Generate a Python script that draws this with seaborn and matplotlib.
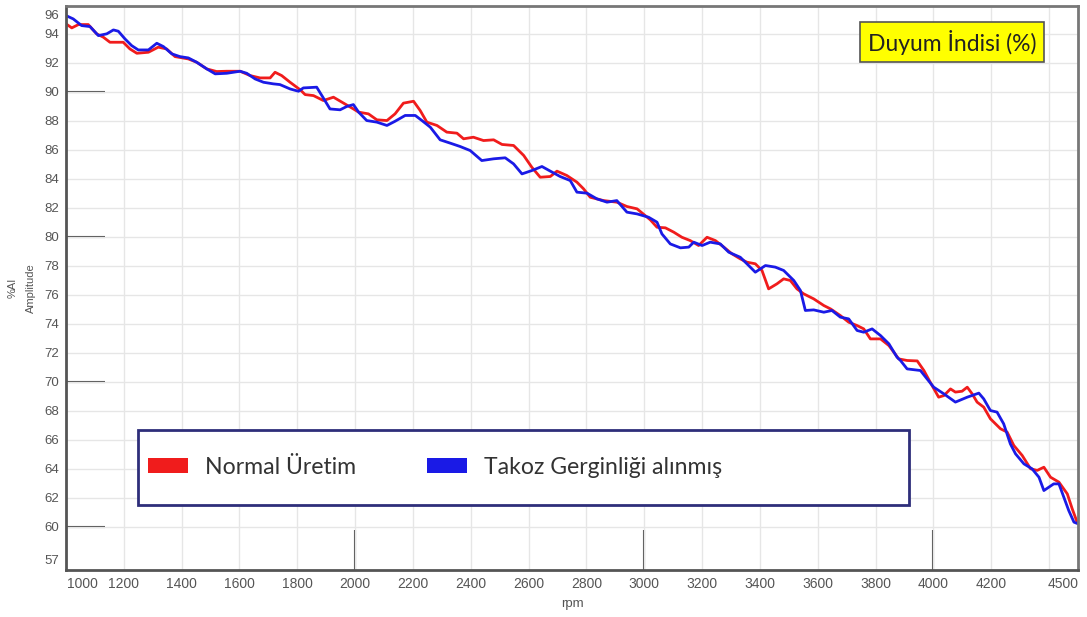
import numpy as np
import pandas as pd
import matplotlib
matplotlib.use("Agg")
import matplotlib.pyplot as plt
import seaborn as sns
from matplotlib.patches import Patch, Rectangle
from matplotlib.ticker import FixedLocator
from matplotlib.transforms import ScaledTranslation

# --- measured curves: engine speed (rpm) vs. amplitude (%AI) ---
normal_rpm = [1000, 1020, 1043, 1077, 1106, 1129, 1152, 1198, 1221, 1245, 1285, 1319, 1348, 1377,
              1423, 1452, 1487, 1521, 1556, 1602, 1637, 1671, 1706, 1723, 1746, 1775, 1810, 1827,
              1856, 1890, 1925, 1960, 1994, 2012, 2046, 2075, 2110, 2138, 2167, 2202, 2225, 2248,
              2283, 2317, 2352, 2375, 2409, 2444, 2479, 2508, 2548, 2583, 2611, 2640, 2675, 2698,
              2732, 2767, 2790, 2813, 2859, 2905, 2940, 2975, 3021, 3044, 3073, 3102, 3130, 3159,
              3188, 3217, 3246, 3275, 3303, 3332, 3355, 3384, 3407, 3430, 3459, 3482, 3505, 3528,
              3551, 3586, 3621, 3644, 3678, 3707, 3736, 3759, 3782, 3817, 3846, 3880, 3909, 3944,
              3967, 3995, 4018, 4036, 4059, 4076, 4099, 4117, 4134, 4151, 4174, 4197, 4232, 4255,
              4278, 4307, 4336, 4359, 4382, 4405, 4434, 4463, 4480, 4497]
normal_amp = [94.67, 94.39, 94.62, 94.62, 93.98, 93.75, 93.40, 93.40, 92.94, 92.64, 92.71, 93.06,
              92.94, 92.41, 92.25, 92.02, 91.56, 91.38, 91.40, 91.40, 91.10, 90.94, 90.94, 91.33,
              91.10, 90.64, 90.12, 89.79, 89.72, 89.38, 89.61, 89.20, 88.80, 88.58, 88.46, 88.05,
              88.00, 88.46, 89.20, 89.33, 88.69, 87.89, 87.66, 87.20, 87.13, 86.74, 86.85, 86.62,
              86.67, 86.35, 86.28, 85.59, 84.78, 84.09, 84.14, 84.51, 84.21, 83.75, 83.29, 82.71,
              82.48, 82.37, 82.07, 81.91, 81.15, 80.64, 80.60, 80.30, 79.95, 79.72, 79.38, 79.95,
              79.72, 79.27, 78.81, 78.46, 78.23, 78.12, 77.66, 76.39, 76.74, 77.08, 76.97, 76.39,
              76.05, 75.70, 75.24, 75.01, 74.55, 74.09, 73.86, 73.63, 72.94, 72.94, 72.48, 71.56,
              71.45, 71.42, 70.76, 69.73, 68.92, 69.03, 69.49, 69.27, 69.33, 69.61, 69.15, 68.58,
              68.23, 67.43, 66.74, 66.51, 65.59, 64.90, 63.98, 63.87, 64.09, 63.40, 63.06, 62.25,
              61.22, 60.30]

takoz_rpm = [1000, 1025, 1054, 1083, 1112, 1141, 1164, 1181, 1204, 1227, 1250, 1285, 1314, 1337,
             1366, 1394, 1423, 1452, 1487, 1516, 1556, 1602, 1625, 1654, 1683, 1717, 1740, 1775,
             1804, 1821, 1867, 1885, 1913, 1948, 1971, 1994, 2012, 2040, 2075, 2110, 2138, 2173,
             2208, 2231, 2260, 2294, 2329, 2363, 2398, 2438, 2479, 2519, 2548, 2577, 2611, 2646,
             2675, 2709, 2744, 2767, 2802, 2836, 2871, 2905, 2940, 2975, 3015, 3044, 3061, 3090,
             3125, 3154, 3171, 3200, 3228, 3263, 3292, 3332, 3355, 3384, 3419, 3453, 3482, 3517,
             3540, 3557, 3586, 3621, 3649, 3678, 3707, 3736, 3759, 3788, 3817, 3846, 3874, 3886,
             3909, 3955, 3978, 4001, 4036, 4076, 4117, 4157, 4174, 4197, 4220, 4243, 4266, 4284,
             4313, 4341, 4365, 4382, 4416, 4434, 4451, 4468, 4486, 4500]
takoz_amp = [95.24, 95.01, 94.55, 94.48, 93.86, 93.98, 94.25, 94.16, 93.63, 93.17, 92.87, 92.87,
             93.33, 93.10, 92.60, 92.41, 92.32, 92.02, 91.56, 91.22, 91.26, 91.40, 91.26, 90.87,
             90.64, 90.53, 90.48, 90.18, 90.02, 90.25, 90.30, 89.72, 88.80, 88.74, 88.97, 89.10,
             88.58, 88.00, 87.89, 87.66, 87.95, 88.35, 88.35, 88.00, 87.54, 86.67, 86.44, 86.21,
             85.93, 85.24, 85.36, 85.43, 85.01, 84.32, 84.55, 84.83, 84.51, 84.14, 83.86, 83.06,
             82.99, 82.60, 82.37, 82.48, 81.68, 81.56, 81.33, 80.99, 80.18, 79.49, 79.22, 79.27,
             79.61, 79.38, 79.61, 79.49, 78.92, 78.57, 78.12, 77.54, 78.00, 77.89, 77.66, 76.97,
             76.28, 74.90, 74.94, 74.78, 74.90, 74.44, 74.32, 73.52, 73.40, 73.63, 73.17, 72.60,
             71.68, 71.45, 70.87, 70.76, 70.18, 69.61, 69.15, 68.58, 68.92, 69.20, 68.80, 68.00,
             67.89, 67.08, 65.70, 65.01, 64.32, 63.98, 63.40, 62.48, 62.94, 62.94, 62.02, 61.10,
             60.30, 60.19]

series_names = ["Normal Üretim", "Takoz Gerginliği alınmış"]
series_colors = ["#f01c1c", "#1a1ae6"]
chart_title = "Duyum İndisi (%)"

x_tick_values = [1000, 1200, 1400, 1600, 1800, 2000, 2200, 2400, 2600, 2800, 3000,
                 3200, 3400, 3600, 3800, 4000, 4200, 4500]
x_tick_labels = [str(v) for v in x_tick_values]
x_grid_values = [1200, 1400, 1600, 1800, 2000, 2200, 2400, 2600, 2800, 3000,
                 3200, 3400, 3600, 3800, 4000, 4200, 4400]
x_long_ticks = [2000, 3000, 4000]

y_tick_values = [57.7, 60, 62, 64, 66, 68, 70, 72, 74, 76, 78, 80, 82, 84, 86, 88, 90, 92, 94, 95.3]
y_tick_labels = ["57", "60", "62", "64", "66", "68", "70", "72", "74", "76", "78", "80",
                 "82", "84", "86", "88", "90", "92", "94", "96"]
y_grid_values = [60, 62, 64, 66, 68, 70, 72, 74, 76, 78, 80, 82, 84, 86, 88, 90, 92, 94]
y_long_ticks = [60, 70, 80, 90]

df = pd.concat([
    pd.DataFrame({"rpm": normal_rpm, "amp": normal_amp, "seri": series_names[0]}),
    pd.DataFrame({"rpm": takoz_rpm, "amp": takoz_amp, "seri": series_names[1]}),
], ignore_index=True)

sns.set_style("white")
plt.rcParams["font.family"] = ["Liberation Sans", "DejaVu Sans"]

W, H = 1087, 617
fig = plt.figure(figsize=(W / 100, H / 100), dpi=100)
ax = fig.add_axes([66 / W, 47 / H, 1012 / W, 564 / H])

sns.lineplot(data=df, x="rpm", y="amp", hue="seri", hue_order=series_names,
             palette=dict(zip(series_names, series_colors)), estimator=None,
             linewidth=2.0, legend=False, ax=ax)

ax.set_xlim(1000, 4500)
ax.set_ylim(57, 95.9)

# ticks, grid
ax.set_xticks(x_tick_values, x_tick_labels)
ax.set_yticks(y_tick_values, y_tick_labels)
ax.xaxis.set_minor_locator(FixedLocator(x_grid_values))
ax.yaxis.set_minor_locator(FixedLocator(y_grid_values))
ax.xaxis.remove_overlapping_locs = False
ax.yaxis.remove_overlapping_locs = False

tick_col = "#555555"
ax.tick_params(axis="both", which="both", direction="in", color=tick_col, width=1.3)
ax.tick_params(axis="x", which="major", length=7, pad=5, labelsize=10, labelcolor=tick_col)
ax.tick_params(axis="x", which="minor", length=7)
ax.tick_params(axis="y", which="major", length=6, pad=5, labelsize=9.5, labelcolor=tick_col)
ax.tick_params(axis="y", which="minor", length=0)
ax.grid(which="major", visible=False)
ax.grid(which="minor", visible=True, color="#e6e6e6", linewidth=1)
ax.set_axisbelow(True)

# long division marks on secondary axes
sec_x = ax.secondary_xaxis("bottom")
sec_x.set_xticks(x_long_ticks, labels=[])
sec_x.tick_params(direction="in", length=29, width=1.5, color="#444444")
sec_x.spines["bottom"].set_visible(False)
sec_y = ax.secondary_yaxis("left")
sec_y.set_yticks(y_long_ticks, labels=[])
sec_y.tick_params(direction="in", length=28, width=1.5, color="#444444")
sec_y.spines["left"].set_visible(False)

for loc, tick in zip(x_tick_values, ax.xaxis.get_major_ticks()):
    if loc == 1000:
        lab = tick.label1
        lab.set_transform(lab.get_transform() + ScaledTranslation(0.16, 0, fig.dpi_scale_trans))
    if loc == 4500:
        lab = tick.label1
        lab.set_transform(lab.get_transform() + ScaledTranslation(-0.15, 0, fig.dpi_scale_trans))

for name, sp in ax.spines.items():
    sp.set_visible(True)
    sp.set_linewidth(2)
    sp.set_color("#555555" if name in ("left", "bottom") else "#777777")

ax.set_xlabel("rpm", fontsize=9.5, color=tick_col, labelpad=5)
ax.set_ylabel("%AI\nAmplitude", fontsize=8, color=tick_col, linespacing=2.1, labelpad=6)

# title badge
ax.text(0.8755, 0.936, chart_title, transform=ax.transAxes, ha="center", va="center",
        fontsize=16.5, family=["Lato", "DejaVu Sans"], color="#222222",
        bbox=dict(boxstyle="square,pad=0.33", fc="#ffff00", ec="#555555", lw=1.2), zorder=6)

# legend with a wide framed panel
ax.add_patch(Rectangle((0.0711, 0.1152), 0.833 - 0.0711, 0.2482 - 0.1152,
                       transform=ax.transAxes, fc="white", ec="#2e2e7a", lw=2, zorder=4))
handles = [Patch(facecolor=c, edgecolor="none", label=n) for n, c in zip(series_names, series_colors)]
leg = ax.legend(handles=handles, loc="center left", bbox_to_anchor=(0.081, 0.1826), ncol=2,
                frameon=False, borderpad=0, borderaxespad=0, handlelength=1.73, handleheight=0.61,
                handletextpad=0.74, columnspacing=3.07,
                prop={"family": ["Lato", "DejaVu Sans"], "size": 16.6})
leg.set_zorder(5)
for t in leg.get_texts():
    t.set_color("#333333")

fig.savefig("out.png", dpi=100, facecolor="white")
